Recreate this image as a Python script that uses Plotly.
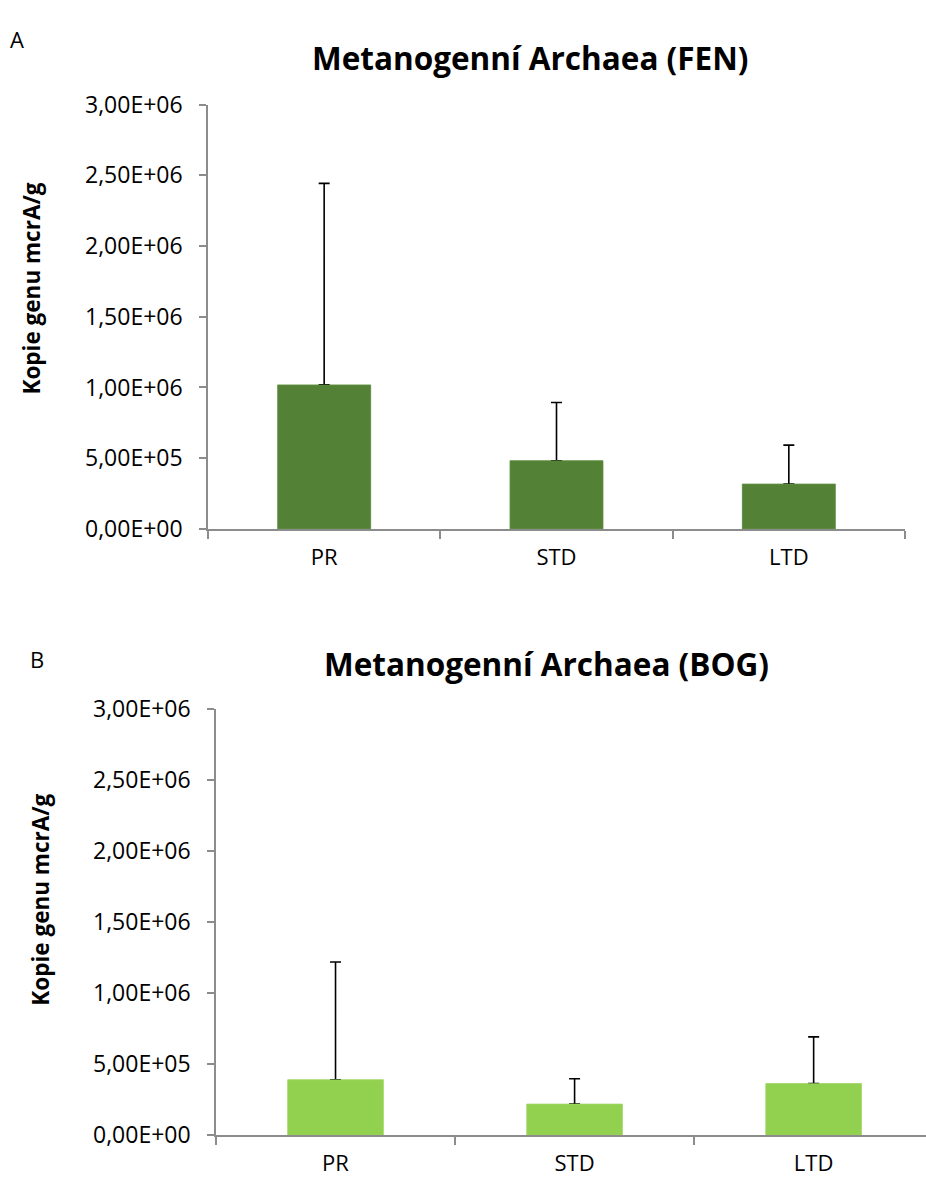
import plotly.graph_objects as go

W, H = 926, 1194

categories = ["PR", "STD", "LTD"]

fen_means = [1.018e6, 0.482e6, 0.317e6]
fen_err = [1.425e6, 0.412e6, 0.275e6]

bog_means = [0.390e6, 0.219e6, 0.363e6]
bog_err = [0.829e6, 0.178e6, 0.329e6]

y_tick_vals = [0, 5e5, 1e6, 1.5e6, 2e6, 2.5e6, 3e6]
y_tick_text = ["0,00E+00", "5,00E+05", "1,00E+06", "1,50E+06", "2,00E+06", "2,50E+06", "3,00E+06"]

title_fen = "Metanogenní Archaea (FEN)"
title_bog = "Metanogenní Archaea (BOG)"
y_title = "Kopie genu mcrA/g"

FONT = "Open Sans"
AXC = "#8c8c8c"

def px_x(p):
    return p / W

def px_y(p):
    return 1 - p / H

fig = go.Figure()

panels = [
    (fen_means, fen_err, "#538135", "#6a9a4c", "x", "y"),
    (bog_means, bog_err, "#92D050", "#a8dc72", "x2", "y2"),
]
for means, errs, col, edge, xa, ya in panels:
    # bars with upward-only error bars
    fig.add_trace(go.Bar(
        x=categories, y=means, width=0.4,
        marker=dict(color=col, line=dict(color=edge, width=0.5)),
        error_y=dict(type="data", array=errs, arrayminus=[0] * len(errs), symmetric=False,
                     color="black", thickness=1.6, width=5.5),
        xaxis=xa, yaxis=ya, showlegend=False,
    ))
    # same bars drawn again on top so the lower cap of the error bar is hidden
    fig.add_trace(go.Bar(
        x=categories, y=means, width=0.4,
        marker=dict(color=col, line=dict(color=edge, width=0.5)),
        xaxis=xa, yaxis=ya, showlegend=False, hoverinfo="skip",
    ))

xcommon = dict(type="category", showline=True, linecolor=AXC, linewidth=1.5,
               ticks="outside", tickson="boundaries", ticklen=8, tickcolor=AXC, tickwidth=1.5,
               showgrid=False, zeroline=False,
               tickfont=dict(family=FONT, size=22, color="black"), ticklabelstandoff=8,
               fixedrange=True)
ycommon = dict(range=[0, 3e6], tickvals=y_tick_vals, ticktext=y_tick_text,
               showline=True, linecolor=AXC, linewidth=1.5,
               ticks="outside", ticklen=7, tickcolor=AXC, tickwidth=1.5,
               showgrid=False, zeroline=False,
               tickfont=dict(family=FONT, size=23, color="black"), ticklabelstandoff=12,
               fixedrange=True)

fig.update_layout(
    width=W, height=H, margin=dict(l=0, r=0, t=0, b=0),
    paper_bgcolor="white", plot_bgcolor="white", barmode="overlay",
    xaxis=dict(domain=[px_x(208), px_x(905)], range=[-0.5, 2.5], anchor="y", **xcommon),
    yaxis=dict(domain=[px_y(526), px_y(90)], anchor="x", **ycommon),
    xaxis2=dict(domain=[px_x(216), 1.0], range=[-0.5, 2.47], anchor="y2", **xcommon),
    yaxis2=dict(domain=[px_y(1149), px_y(711)], anchor="x2", **ycommon),
)

annots = [
    dict(text="A", x=px_x(17), y=px_y(23), font=dict(family=FONT, size=22)),
    dict(text="B", x=px_x(37), y=px_y(660), font=dict(family=FONT, size=22)),
    dict(text="<b>%s</b>" % title_fen, x=px_x(530), y=px_y(42), font=dict(family=FONT, size=31.5)),
    dict(text="<b>%s</b>" % title_bog, x=px_x(546), y=px_y(664), font=dict(family=FONT, size=31.5)),
    dict(text="<b>%s</b>" % y_title, x=px_x(32), y=px_y(279), textangle=-90, font=dict(family=FONT, size=22.5)),
    dict(text="<b>%s</b>" % y_title, x=px_x(41), y=px_y(907), textangle=-90, font=dict(family=FONT, size=22.5)),
]
for a in annots:
    a.update(xref="paper", yref="paper", showarrow=False, xanchor="center", yanchor="middle")
    a["font"]["color"] = "black"
    fig.add_annotation(**a)

fig.write_html("out.html")
